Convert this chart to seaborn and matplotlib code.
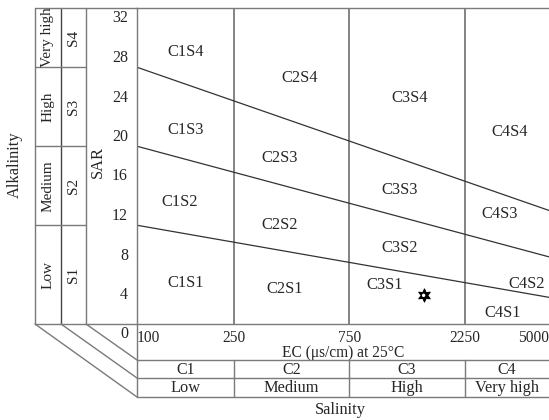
import numpy as np
import pandas as pd
import matplotlib
matplotlib.use("Agg")
import matplotlib.pyplot as plt
import matplotlib.transforms as mtransforms
from matplotlib.lines import Line2D
from matplotlib.ticker import FixedLocator, FixedFormatter, LogLocator, MultipleLocator, NullFormatter
import seaborn as sns

# x axis: EC classes
ec_ticks = [100, 250, 750, 2250, 5000]
ec_tick_labels = ["100", "250", "750", "2250", "5000"]
class_edges = [250, 750, 2250]
c_labels = ["C1", "C2", "C3", "C4"]
c_names = ["Low", "Medium", "High", "Very high"]

# y axis: SAR classes
sar_ticks = [0, 4, 8, 12, 16, 20, 24, 28, 32]
s_labels = ["S1", "S2", "S3", "S4"]
s_names = ["Low", "Medium", "High", "Very high"]

# class boundary lines, SAR at EC = 100 and EC = 5000
boundary_ec = [100, 5000]
boundary_s12 = [10.0, 2.7]
boundary_s23 = [18.0, 6.8]
boundary_s34 = [26.0, 11.5]

# zone labels
zone_names = ["C1S4", "C2S4", "C3S4", "C4S4",
              "C1S3", "C2S3", "C3S3", "C4S3",
              "C1S2", "C2S2", "C3S2", "C4S2",
              "C1S1", "C2S1", "C3S1", "C4S1"]
zone_ec = [158, 469, 1330, 3430,
           158, 388, 1210, 3120,
           150, 388, 1210, 4030,
           158, 406, 1050, 3210]
zone_sar = [27.5, 24.9, 22.9, 19.4,
            19.6, 16.8, 13.6, 11.1,
            12.4, 10.0, 7.7, 4.0,
            4.2, 3.5, 3.9, 1.1]

# sample
sample_ec = [1520]
sample_sar = [2.9]

W, H = 549, 420
FRAME = "#7a7a7a"
LINE = "#333333"
FS = 11.8

sns.set_style("white")
plt.rcParams["font.family"] = ["Liberation Serif", "DejaVu Serif"]


def fx(px):
    return px / W


def fy(py):
    return 1 - py / H


fig = plt.figure(figsize=(W / 100, H / 100), dpi=100)
ax = fig.add_axes([fx(137), fy(324), fx(549) - fx(137), (324 - 8) / H])
ax.set_xscale("log")
ax.set_xlim(ec_ticks[0], ec_ticks[-1])
ax.set_ylim(sar_ticks[0], sar_ticks[-1])

bounds = pd.DataFrame({
    "line": ["s12"] * 2 + ["s23"] * 2 + ["s34"] * 2,
    "ec": boundary_ec * 3,
    "sar": boundary_s12 + boundary_s23 + boundary_s34,
})
sns.lineplot(data=bounds, x="ec", y="sar", units="line", estimator=None,
             color=LINE, lw=0.9, ax=ax, legend=False)

for e in class_edges:
    ax.axvline(e, color=FRAME, lw=1.3, zorder=1)

for name, e, s in zip(zone_names, zone_ec, zone_sar):
    ax.text(e, s, name, ha="center", va="center", fontsize=FS)

sns.scatterplot(x=sample_ec, y=sample_sar, marker=(6, 1, 0), s=90,
                color="black", edgecolor="black", ax=ax, zorder=5)
sns.scatterplot(x=sample_ec, y=sample_sar, marker="o", s=6,
                color="white", edgecolor="none", ax=ax, zorder=6)

ax.set_xlim(ec_ticks[0], ec_ticks[-1])
ax.set_ylim(sar_ticks[0], sar_ticks[-1])
ax.set_xlabel("")
ax.set_ylabel("")

# ticks
ax.xaxis.set_major_locator(FixedLocator(ec_ticks))
ax.xaxis.set_major_formatter(FixedFormatter(ec_tick_labels))
ax.xaxis.set_minor_locator(LogLocator(base=10, subs=np.arange(1, 10)))
ax.xaxis.set_minor_formatter(NullFormatter())
ax.tick_params(axis="x", which="major", length=0, pad=4, labelsize=11.2)
ax.tick_params(axis="x", which="minor", direction="in", length=4.5,
               width=0.8, color=FRAME)
xl = ax.get_xticklabels()
xl[0].set_ha("left")
xl[-1].set_ha("right")

ax.yaxis.set_major_locator(FixedLocator(sar_ticks))
ax.yaxis.set_minor_locator(MultipleLocator(2))
ax.tick_params(axis="y", which="both", direction="in", length=4.5,
               width=0.8, color=FRAME, pad=6.5, labelsize=11.5)
shift = mtransforms.ScaledTranslation(0, -0.085, fig.dpi_scale_trans)
for lab in ax.get_yticklabels():
    lab.set_transform(lab.get_transform() + shift)

for side in ["top", "left", "bottom"]:
    ax.spines[side].set_color(FRAME)
    ax.spines[side].set_linewidth(1.0)
ax.spines["right"].set_visible(False)

ax.text(0.5, (324 - 353) / 316, "EC (μs/cm) at 25°C",
        transform=ax.transAxes, ha="center", va="center", fontsize=11.2)

# left block: alkalinity classes
tl = mtransforms.blended_transform_factory(fig.transFigure, ax.transData)
s_edges = [sar_ticks[0], boundary_s12[0], boundary_s23[0], boundary_s34[0], sar_ticks[-1]]
for xp, col in [(35, FRAME), (61, "#444444"), (86, FRAME)]:
    fig.add_artist(Line2D([fx(xp), fx(xp)], [s_edges[0], s_edges[-1]],
                          transform=tl, color=col, lw=1.0))
for yv in [s_edges[0], s_edges[-1]]:
    fig.add_artist(Line2D([fx(35), fx(137)], [yv, yv], transform=tl, color=FRAME, lw=1.0))
for yv in s_edges[1:-1]:
    fig.add_artist(Line2D([fx(35), fx(86)], [yv, yv], transform=tl, color=FRAME, lw=1.0))
for i in range(4):
    yc = (s_edges[i] + s_edges[i + 1]) / 2
    fig.text(fx(48), yc, s_names[i], transform=tl, rotation=90,
             ha="center", va="center", fontsize=11)
    fig.text(fx(74), yc, s_labels[i], transform=tl, rotation=90,
             ha="center", va="center", fontsize=11)
fig.text(fx(98), fy(162), "SAR", rotation=90, ha="center", va="center", fontsize=FS)
fig.text(fx(15), fy(165), "Alkalinity", rotation=90, ha="center", va="center", fontsize=FS)

# bottom block: salinity classes
tb = mtransforms.blended_transform_factory(ax.transAxes, fig.transFigure)
tbd = mtransforms.blended_transform_factory(ax.transData, fig.transFigure)
for yp in [360, 378, 397]:
    fig.add_artist(Line2D([0, 1], [fy(yp), fy(yp)], transform=tb, color=FRAME, lw=1.0))
fig.add_artist(Line2D([0, 0], [fy(324), fy(397)], transform=tb, color=FRAME, lw=1.0))
for e in class_edges:
    fig.add_artist(Line2D([e, e], [fy(360), fy(397)], transform=tbd, color=FRAME, lw=1.0))
c_edges = [ec_ticks[0]] + class_edges + [ec_ticks[-1]]
for i in range(4):
    xc = np.sqrt(c_edges[i] * c_edges[i + 1])
    fig.text(xc, fy(369.5), c_labels[i], transform=tbd, ha="center", va="center", fontsize=11.5)
    fig.text(xc, fy(388), c_names[i], transform=tbd, ha="center", va="center", fontsize=FS)
fig.text(fx(340), fy(410), "Salinity", ha="center", va="center", fontsize=FS)

# diagonal connectors
for x0, y1 in [(35, 397), (61, 378), (86, 360)]:
    fig.add_artist(Line2D([fx(x0), fx(137)], [fy(324), fy(y1)],
                          transform=fig.transFigure, color=FRAME, lw=1.0))

fig.savefig("out.png", dpi=100)
